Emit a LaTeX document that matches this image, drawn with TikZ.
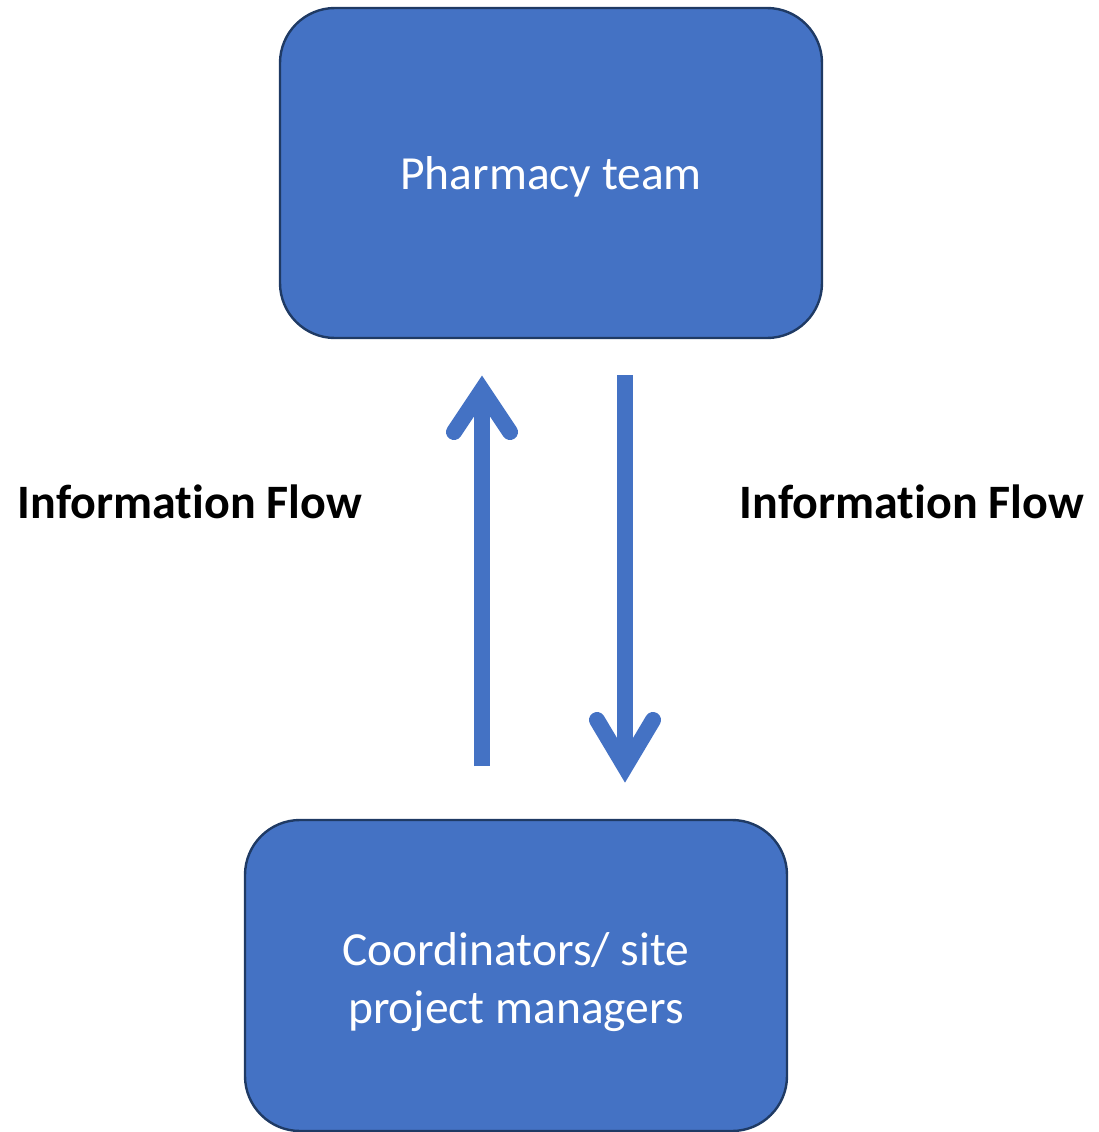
\documentclass[tikz,border=0pt]{standalone}
\usepackage{fontspec}
\setmainfont{Carlito}[Ligatures=NoCommon]
\usetikzlibrary{calc}

\definecolor{boxfill}{HTML}{4472C4}
\definecolor{boxline}{HTML}{1F3A64}
\definecolor{flowblue}{HTML}{4472C4}

\begin{document}
\begin{tikzpicture}[x=1pt,y=-1pt,
  rolebox/.style={draw=boxline, line width=2.4pt, fill=boxfill,
    rounded corners=55pt, minimum width=542pt, inner sep=0pt},
  roletext/.style={text=white, align=center, inner sep=0pt,
    font=\fontsize{47.5}{58}\selectfont},
  shaft/.style={draw=flowblue, line width=16pt, line cap=butt},
  barb/.style={draw=flowblue, line width=16pt, line cap=round, line join=miter, miter limit=10},
  flowlabel/.style={font=\fontsize{48}{56}\selectfont\bfseries, text=black, inner sep=0pt}]

  \useasboundingbox (0,0) rectangle (1099,1132);

  % the two teams
  \node[rolebox, minimum height=330pt] (pharmacy) at (551,173) {};
  \node[roletext] (pharmacytext) at ($(pharmacy.center)+(0,4)$) {Pharmacy team};
  \node[rolebox, minimum height=311pt] (coord) at (516,975.5) {};
  \node[roletext] (coordtext) at ($(coord.center)+(0,7)$)
    {Coordinators/ site\\project managers};

  % upward flow
  \coordinate (upTail) at (482,766);
  \coordinate (upHead) at (482,390);
  \draw[shaft] (upTail) -- (upHead);
  \draw[barb] ($(upHead)+(-28,42)$) -- (upHead) -- ($(upHead)+(28,42)$);

  % downward flow
  \coordinate (downTail) at (625,375);
  \coordinate (downHead) at (625,767);
  \draw[shaft] (downTail) -- (downHead);
  \draw[barb] ($(downHead)+(-28,-47)$) -- (downHead) -- ($(downHead)+(28,-47)$);

  % labels
  \node[flowlabel] (leftlabel) at (190,502) {Information Flow};
  \node[flowlabel] (rightlabel) at (912,502) {Information Flow};
\end{tikzpicture}
\end{document}
